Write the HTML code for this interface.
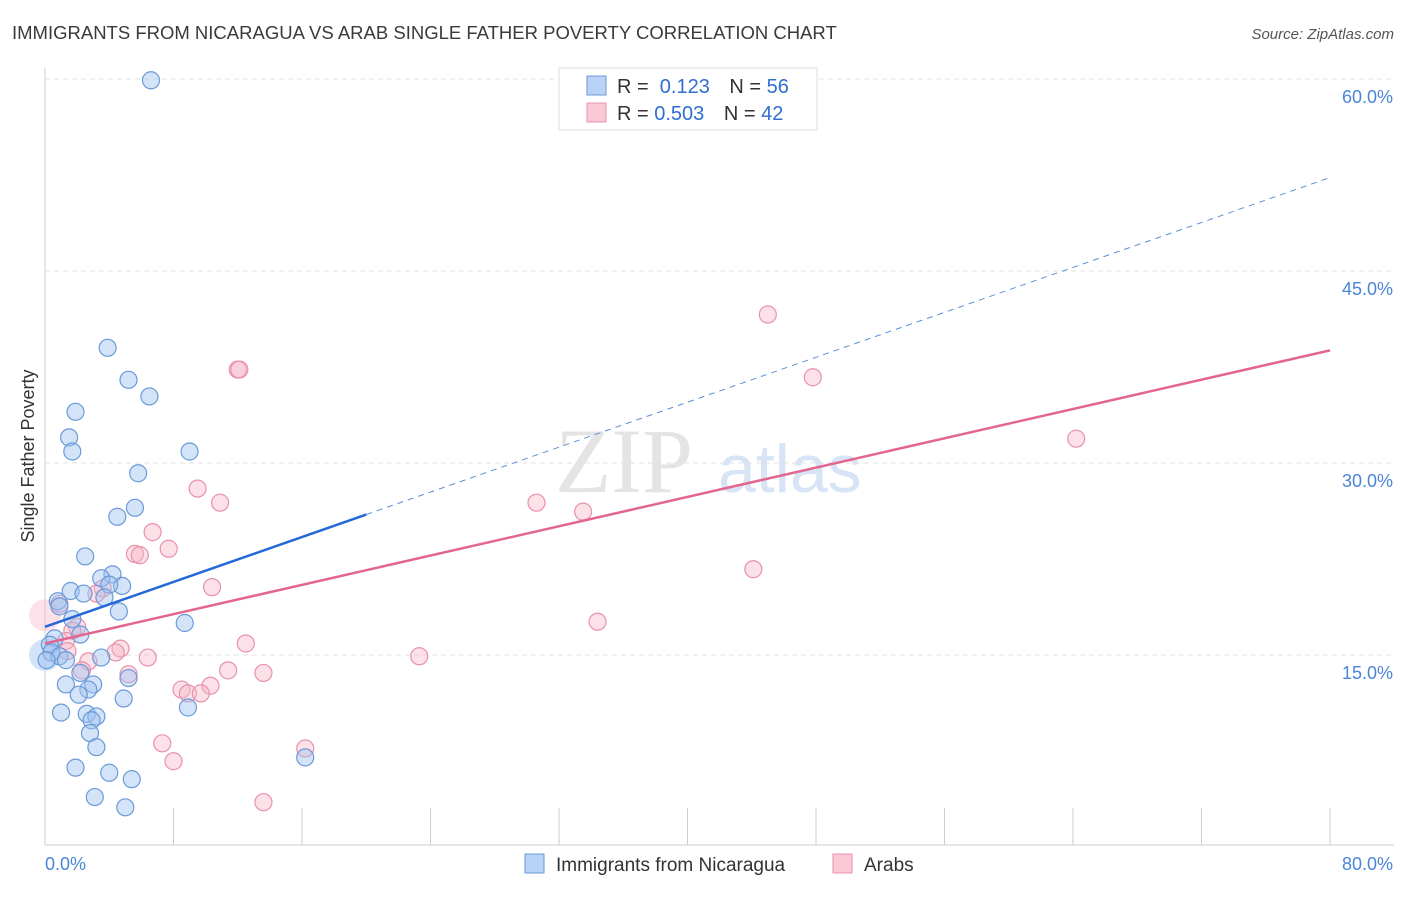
<!DOCTYPE html>
<html><head><meta charset="utf-8"><style>
body{margin:0;background:#fff;font-family:"Liberation Sans",sans-serif}
</style></head><body>
<svg id="c" width="1406" height="892" xmlns="http://www.w3.org/2000/svg" font-family="Liberation Sans, sans-serif">
<text x="12" y="39" font-size="18.5" fill="#3a3a3a">IMMIGRANTS FROM NICARAGUA VS ARAB SINGLE FATHER POVERTY CORRELATION CHART</text>
<text x="1394" y="39" font-size="15" fill="#555" font-style="italic" text-anchor="end">Source: ZipAtlas.com</text>
<text x="34" y="456" font-size="18" fill="#333" text-anchor="middle" transform="rotate(-90 34 456)">Single Father Poverty</text>
<text x="555" y="492" font-size="92" fill="#e4e4e4" font-family="Liberation Serif, serif">ZIP</text>
<text x="718" y="492" font-size="68" fill="#d6e4f5">atlas</text>
<g id="grid"></g><g id="pts"></g><g id="lines"></g>
<g>
<rect x="559" y="68" width="258" height="62" fill="#fff" stroke="#ddd"/>
<rect x="587" y="76" width="19" height="19" fill="#b8d3f5" stroke="#6a9ad8"/>
<rect x="587" y="103" width="19" height="19" fill="#fac8d6" stroke="#e891ab"/>
<text x="617" y="93" font-size="20" fill="#333">R = <tspan fill="#2f6fd0">&#160;0.123</tspan>   <tspan dx="14">N = </tspan><tspan fill="#2f6fd0">56</tspan></text>
<text x="617" y="120" font-size="20" fill="#333">R = <tspan fill="#2f6fd0">0.503</tspan>   <tspan dx="14">N = </tspan><tspan fill="#2f6fd0">42</tspan></text>
</g>
<g>
<rect x="525" y="854" width="19" height="19" fill="#b8d3f5" stroke="#6a9ad8"/>
<text x="556" y="871" font-size="19" fill="#333">Immigrants from Nicaragua</text>
<rect x="833" y="854" width="19" height="19" fill="#fac8d6" stroke="#e891ab"/>
<text x="864" y="871" font-size="19" fill="#333">Arabs</text>
</g>
</svg>
<script>
const xTicks=[0,10,20,30,40,50,60,70,80];
const yTicks=[15,30,45,60];
const blueX=[6.6,3.9,5.2,6.5,1.9,1.5,1.7,9.0,5.8,5.6,4.5,2.5,4.2,3.5,4.8,4.0,1.6,2.4,3.7,0.8,0.9,4.6,1.7,8.7,2.2,0.6,0.3,0.4,0.9,1.3,3.5,0.1,2.2,1.3,3.0,5.2,2.7,2.1,4.9,8.9,1.0,2.6,3.2,2.9,2.8,3.2,16.2,1.9,4.0,5.4,3.1,5.0];
const blueY=[59.9,39.0,36.5,35.2,34.0,32.0,30.9,30.9,29.2,26.5,25.8,22.7,21.3,21.0,20.4,20.5,20.0,19.8,19.5,19.2,18.8,18.4,17.8,17.5,16.6,16.3,15.8,15.2,14.9,14.6,14.8,14.6,13.6,12.7,12.7,13.2,12.3,11.9,11.6,10.9,10.5,10.4,10.2,9.9,8.9,7.8,7.0,6.2,5.8,5.3,3.9,3.1];
const pinkX=[45.0,12.0,12.1,47.8,64.2,9.5,10.9,30.6,33.5,6.7,7.7,5.6,5.9,44.1,10.4,3.6,3.2,0.9,34.4,2.0,1.7,12.5,1.3,4.7,1.4,4.4,6.4,23.3,2.7,2.3,11.4,13.6,5.2,10.3,8.5,8.9,9.7,7.3,8.0,16.2,13.6];
const pinkY=[41.6,37.3,37.3,36.7,31.9,28.0,26.9,26.9,26.2,24.6,23.3,22.9,22.8,21.7,20.3,20.2,19.8,19.0,17.6,17.2,16.9,15.9,16.1,15.5,15.3,15.2,14.8,14.9,14.5,13.8,13.8,13.6,13.5,12.6,12.3,12.0,12.0,8.1,6.7,7.7,3.5];
const blueTrend=[17.2,52.3];
const pinkTrend=[15.9,38.8];
const NS='http://www.w3.org/2000/svg';
const sx=v=>45+v/80*1285, sy=v=>847-v/15*192;
function mk(tag,attrs,parent){const e=document.createElementNS(NS,tag);for(const k in attrs)e.setAttribute(k,attrs[k]);parent.appendChild(e);return e;}
const grid=document.getElementById('grid'),pts=document.getElementById('pts'),lines=document.getElementById('lines');
let ax=mk('line',{x1:45,y1:68,x2:45,y2:845,stroke:'#ccc'},grid);


let bx=mk('line',{x1:45,y1:845,x2:1394,y2:845,stroke:'#ccc'},grid);


yTicks.forEach(t=>{
 const l=mk('line',{x1:45,y1:sy(t),x2:1394,y2:sy(t),stroke:'#e2e2e2','stroke-dasharray':'5,4'},grid);
 
 
 const tx=mk('text',{x:1393,y:sy(t)+24,'font-size':18,fill:'#4a86d8','text-anchor':'end'},grid);
 tx.textContent=t.toFixed(1)+'%';
 
 
});
for(let i=0;i<=10;i++){const x=45+i*128.5;const l=mk('line',{x1:x,y1:808,x2:x,y2:845,stroke:'#ccc'},grid);
 
 }
[[0,45,'start'],[80,1393,'end']].forEach(([v,x,a])=>{const t=mk('text',{x:x,y:870,'font-size':18,fill:'#4a86d8','text-anchor':a},grid);t.textContent=v.toFixed(1)+'%';
 
 });
let big=mk('circle',{cx:sx(0),cy:sy(15),r:16,fill:'rgba(160,195,240,0.45)'},pts);


let bigp=mk('circle',{cx:sx(0),cy:sy(18.1),r:16,fill:'rgba(248,180,200,0.4)'},pts);


pinkX.forEach((x,i)=>{const c=mk('circle',{cx:sx(x),cy:sy(pinkY[i]),r:8.5,fill:'rgba(248,180,200,0.4)',stroke:'#e891ab','stroke-width':1.2},pts);
 
 });
blueX.forEach((x,i)=>{const c=mk('circle',{cx:sx(x),cy:sy(blueY[i]),r:8.5,fill:'rgba(160,195,240,0.45)',stroke:'#6a9ad8','stroke-width':1.2},pts);
 
 });
const bAt=x=>blueTrend[0]+(blueTrend[1]-blueTrend[0])*x/80;
let bl=mk('line',{x1:sx(0),y1:sy(bAt(0)),x2:sx(20),y2:sy(bAt(20)),stroke:'#2468d8','stroke-width':2.5},lines);


let bd=mk('line',{x1:sx(20),y1:sy(bAt(20)),x2:sx(80),y2:sy(bAt(80)),stroke:'#5b8fd6','stroke-width':1,'stroke-dasharray':'6,5'},lines);


let pl=mk('line',{x1:sx(0),y1:sy(pinkTrend[0]),x2:sx(80),y2:sy(pinkTrend[1]),stroke:'#e26690','stroke-width':2.5},lines);


</script>
</body></html>
